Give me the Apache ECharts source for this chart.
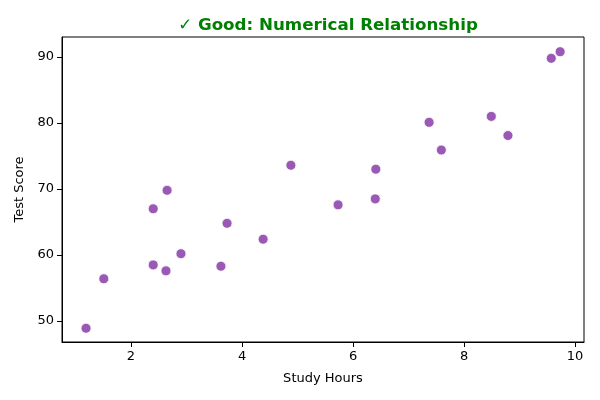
<!DOCTYPE html>
<html><head><meta charset="utf-8">
<script src="https://cdn.jsdelivr.net/npm/echarts@6/dist/echarts.min.js"></script>
<style>html,body{margin:0;padding:0;background:#fff}#c{width:600px;height:400px}</style>
</head><body><div id="c"></div>
<script>
const studyHours = [1.19, 1.51, 2.40, 2.65, 2.40, 2.63, 2.90, 3.62, 3.73, 4.38, 4.88, 5.73, 6.40, 6.41, 7.37, 7.59, 8.49, 8.79, 9.57, 9.73];
const testScores = [48.9, 56.4, 67.0, 69.8, 58.5, 57.6, 60.2, 58.3, 64.8, 62.4, 73.6, 67.6, 68.5, 73.0, 80.1, 75.9, 81.0, 78.1, 89.8, 90.8];
const xTicks = [2, 4, 6, 8, 10];
const yTicks = [50, 60, 70, 80, 90];
const points = studyHours.map((x, i) => [x, testScores[i]]);
const font = 'DejaVu Sans';
const chart = echarts.init(document.getElementById('c'));
chart.setOption({
  animation: false,
  title: {
    text: '✓ Good: Numerical Relationship',
    left: 323, top: 12, textAlign: 'center',
    textStyle: {color: '#008000', fontWeight: 'bold', fontSize: 16.7, fontFamily: font}
  },
  grid: {left: 62, right: 16, top: 37, bottom: 58, show: true, borderColor: '#000', borderWidth: 1, backgroundColor: 'transparent'},
  xAxis: {
    type: 'value', min: 0.757, max: 10.16,
    name: 'Study Hours', nameLocation: 'middle', nameGap: 30,
    nameTextStyle: {color: '#000', fontSize: 13, fontFamily: font},
    axisLine: {show: true, onZero: false, lineStyle: {color: '#000'}},
    axisTick: {show: true, length: 5, lineStyle: {color: '#000'}, customValues: xTicks},
    axisLabel: {color: '#000', fontSize: 13, fontFamily: font, margin: 8, customValues: xTicks},
    splitLine: {show: false}
  },
  yAxis: {
    type: 'value', min: 46.82, max: 93.03,
    name: 'Test Score', nameLocation: 'middle', nameGap: 35, nameRotate: 90,
    nameTextStyle: {color: '#000', fontSize: 13, fontFamily: font},
    axisLine: {show: true, onZero: false, lineStyle: {color: '#000'}},
    axisTick: {show: true, length: 5, lineStyle: {color: '#000'}, customValues: yTicks},
    axisLabel: {color: '#000', fontSize: 13, fontFamily: font, margin: 8, customValues: yTicks},
    splitLine: {show: false}
  },
  series: [{
    type: 'scatter', data: points, symbolSize: 10,
    itemStyle: {color: '#9b59b6', borderColor: '#ffffff', borderWidth: 0.8, opacity: 1}
  }]
});
</script></body></html>
